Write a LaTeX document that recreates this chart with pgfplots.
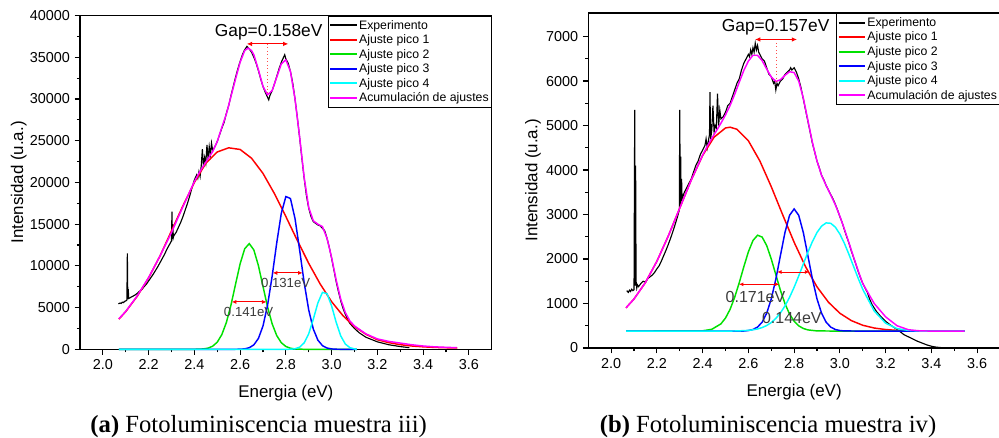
\documentclass[border=0pt]{standalone}
\usepackage{pgfplots}
\pgfplotsset{compat=1.18}
\usepackage{fontspec}
\setmainfont{Liberation Serif}
\newfontfamily\arial{Liberation Sans}
\usetikzlibrary{arrows.meta}
\definecolor{cR}{RGB}{255,0,0}
\definecolor{cG}{RGB}{0,225,0}
\definecolor{cB}{RGB}{0,0,255}
\definecolor{cC}{RGB}{0,255,255}
\definecolor{cM}{RGB}{255,0,255}
\definecolor{annot}{RGB}{60,60,60}
\pgfplotsset{
  myaxis/.style={
    scale only axis, width=308.8pt,
    xmin=1.9, xmax=3.7,
    xtick={2,2.2,2.4,2.6,2.8,3,3.2,3.4,3.6},
    minor x tick num=1, minor y tick num=1,
    xticklabel style={/pgf/number format/.cd,fixed,fixed zerofill,precision=1},
    yticklabel style={/pgf/number format/.cd,fixed,set thousands separator={}},
    scaled y ticks=false,
    /pgf/number format/assume math mode=true,
    tick align=outside, xtick pos=bottom, ytick pos=left,
    major tick length=4pt, minor tick length=2.3pt,
    axis line style={line width=1.1pt},
    every tick/.style={black, line width=0.9pt},
    tick label style={font=\arial\fontsize{10.8}{12}\selectfont},
    label style={font=\arial\fontsize{12.7}{14}\selectfont},
    xlabel={Energia (eV)}, ylabel={Intensidad (u.a.)},
    legend style={at={(1,1)}, anchor=north east, draw=black, line width=0.6pt,
      font=\arial\fontsize{9.2}{10}\selectfont, inner xsep=1pt, inner ysep=1.5pt,
      row sep=0pt, nodes={inner xsep=1pt, inner ysep=0pt, text height=8.3pt, text depth=2.6pt}},
    legend cell align=left,
    legend image code/.code={\draw[#1, line width=1.3pt] (0pt,0pt) -- (20pt,0pt);},
    clip=false,
  },
  fit/.style={line width=1.1pt},
}
\begin{document}
\begin{tikzpicture}
\path[use as bounding box] (0,0) rectangle (749.25pt,-328.5pt);
% ---------------- panel (a) ----------------
\begin{axis}[myaxis, at={(60pt,-262pt)}, anchor=south west, height=250.35pt,
  ymin=0, ymax=40000, ytick={0,5000,...,40000},
  ylabel style={at={(axis description cs:-0.149,0.5)}, anchor=center},
  xlabel style={at={(axis description cs:0.5,-0.132)}, anchor=center}]
\addplot[black, line width=0.85pt] coordinates {
(2.068,5450)(2.075,5550)(2.080,5500)(2.085,5650)(2.090,5600)(2.095,5750)(2.100,5800)(2.105,5900)
(2.107,11500)(2.109,6000)(2.111,7200)(2.113,6100)(2.12,6200)(2.13,6350)(2.14,6500)(2.15,6700)
(2.16,6950)(2.17,7150)(2.18,7500)(2.19,7800)(2.20,8200)(2.21,8600)(2.22,9000)(2.23,9450)
(2.24,9900)(2.25,10400)(2.26,10900)(2.27,11400)(2.28,12000)(2.29,12500)(2.300,13000)(2.302,16500)
(2.304,13200)(2.306,15000)(2.308,13400)(2.31,13600)(2.32,14000)(2.33,14600)(2.34,15200)(2.35,15900)
(2.36,16700)(2.37,17500)(2.38,18400)(2.39,19400)(2.40,20300)(2.41,20900)(2.415,20500)(2.42,21300)
(2.425,20700)(2.43,22000)(2.435,24000)(2.44,21800)(2.445,23000)(2.45,22300)(2.455,24500)(2.46,22800)
(2.465,24300)(2.47,23300)(2.475,24700)(2.48,23800)(2.49,24300)(2.50,24900)(2.51,25700)(2.52,26500)
(2.53,27200)(2.54,28300)(2.55,29200)(2.56,30400)(2.57,31500)(2.58,32600)(2.59,33600)(2.60,34500)
(2.61,35300)(2.62,35900)(2.63,36300)(2.64,36000)(2.65,35600)(2.66,35000)(2.67,34300)(2.68,33400)
(2.69,32400)(2.70,31500)(2.71,30800)(2.72,30200)(2.725,29900)(2.73,30400)(2.74,31000)(2.75,31800)
(2.76,32700)(2.77,33600)(2.78,34400)(2.79,35000)(2.795,35300)(2.80,34800)(2.81,34300)(2.82,33300)
(2.83,31900)(2.84,30000)(2.85,27800)(2.86,25400)(2.87,22900)(2.88,20500)(2.89,18400)(2.90,16900)
(2.91,15900)(2.92,15300)(2.93,15100)(2.94,14900)(2.95,14800)(2.96,14500)(2.97,14200)(2.98,13300)
(2.99,12200)(3.00,10900)(3.01,9500)(3.02,8100)(3.03,6900)(3.04,5800)(3.05,4900)(3.06,4200)
(3.07,3600)(3.08,3100)(3.10,2500)(3.12,2000)(3.15,1450)(3.20,900)(3.25,550)(3.30,330)(3.34,200)
};
\addlegendentry{Experimento}
\addplot[cR, fit] coordinates {
(2.07,3620)(2.10,4520)(2.15,6350)(2.20,8570)(2.25,11200)(2.30,14200)(2.35,17200)(2.40,20000)
(2.45,22300)(2.50,23650)(2.55,24150)(2.60,23950)(2.65,22900)(2.70,21080)(2.75,18660)(2.80,15910)
(2.85,13050)(2.90,10300)(2.95,7830)(3.00,5710)(3.05,4020)(3.10,2720)(3.15,1800)(3.20,1150)
(3.25,800)(3.30,560)(3.35,400)(3.40,300)(3.45,230)(3.50,190)(3.55,160)
};
\addlegendentry{Ajuste pico 1}
\addplot[cG, fit] coordinates {
(2.07,0)(2.40,4)(2.44,51)(2.46,146)(2.48,375)(2.50,860)(2.52,1761)(2.54,3230)(2.56,5310)
(2.58,7800)(2.60,10250)(2.62,12050)(2.64,12670)(2.66,11910)(2.68,10030)(2.70,7540)(2.72,5080)
(2.74,3060)(2.76,1650)(2.78,795)(2.80,342)(2.82,131)(2.84,46)(2.88,4)(3.11,0)
};
\addlegendentry{Ajuste pico 2}
\addplot[cB, fit] coordinates {
(2.07,0)(2.56,0)(2.60,17)(2.62,61)(2.64,192)(2.66,537)(2.68,1306)(2.70,2800)(2.72,5290)
(2.74,8760)(2.76,12740)(2.78,16300)(2.80,18310)(2.82,18070)(2.84,15670)(2.86,11940)(2.88,7990)
(2.90,4700)(2.92,2430)(2.94,1100)(2.96,440)(2.98,154)(3.00,48)(3.02,13)(3.06,0)(3.11,0)
};
\addlegendentry{Ajuste pico 3}
\addplot[cC, fit] coordinates {
(2.07,0)(2.80,0)(2.82,14)(2.84,67)(2.86,255)(2.88,777)(2.90,1876)(2.92,3617)(2.94,5565)
(2.96,6825)(2.98,6672)(3.00,5200)(3.02,3230)(3.04,1600)(3.06,632)(3.08,199)(3.10,50)(3.11,0)
};
\addlegendentry{Ajuste pico 4}
\addplot[cM, fit] coordinates {
(2.07,3650)(2.10,4550)(2.15,6400)(2.20,8600)(2.25,11200)(2.30,14000)(2.35,17100)(2.40,20100)
(2.42,21100)(2.44,22000)(2.46,22850)(2.48,23700)(2.50,24900)(2.52,26600)(2.54,28200)(2.56,30300)
(2.58,32400)(2.60,34400)(2.62,35800)(2.635,36100)(2.65,35800)(2.66,35300)(2.68,33500)(2.70,31500)
(2.72,30500)(2.74,31000)(2.76,32600)(2.78,34200)(2.80,34700)(2.82,33300)(2.84,30000)(2.86,25500)
(2.88,20600)(2.90,17000)(2.92,15400)(2.94,15000)(2.96,14700)(2.98,13300)(3.00,11000)(3.02,8300)
(3.04,6000)(3.06,4400)(3.08,3400)(3.10,2800)(3.15,1850)(3.20,1250)(3.25,950)(3.30,750)
(3.35,550)(3.40,400)(3.45,300)(3.50,240)(3.547,200)
};
\addlegendentry{Acumulación de ajustes}
\draw[cR!70, dotted, line width=0.6pt] (axis cs:2.719,36600) -- (axis cs:2.719,30400);
\draw[cR, line width=0.8pt, {Latex[length=4pt,width=3.5pt]}-{Latex[length=4pt,width=3.5pt]}] (axis cs:2.629,36600) -- (axis cs:2.811,36600);
\node[font=\arial\fontsize{13}{14}\selectfont] at (axis cs:2.725,38050) {Gap=0.158eV};
\draw[cR, line width=0.7pt, {Latex[length=3.5pt,width=3pt]}-{Latex[length=3.5pt,width=3pt]}] (axis cs:2.563,5680) -- (axis cs:2.716,5680);
\node[font=\arial\fontsize{9.9}{11}\selectfont, text=annot] at (axis cs:2.637,4510) {0.141eV};
\draw[cR, line width=0.7pt, {Latex[length=3.5pt,width=3pt]}-{Latex[length=3.5pt,width=3pt]}] (axis cs:2.742,9160) -- (axis cs:2.874,9160);
\node[font=\arial\fontsize{9.9}{11}\selectfont, text=annot] at (axis cs:2.799,7960) {0.131eV};
\end{axis}
% ---------------- panel (b) ----------------
\begin{axis}[myaxis, at={(441.2pt,-261pt)}, anchor=south west, height=251.25pt,
  ymin=0, ymax=7530, ytick={0,1000,...,7000},
  ylabel style={at={(axis description cs:-0.134,0.5)}, anchor=center},
  xlabel style={at={(axis description cs:0.5,-0.1305)}, anchor=center}]
\addplot[black, line width=0.85pt] coordinates {
(2.068,1290)(2.075,1250)(2.080,1300)(2.085,1270)(2.090,1320)(2.095,1290)(2.100,1310)(2.103,5350)
(2.105,1400)(2.107,4100)(2.109,1500)(2.112,1350)(2.115,1420)(2.12,1380)(2.13,1450)(2.14,1500)
(2.15,1480)(2.16,1560)(2.17,1600)(2.18,1640)(2.19,1700)(2.20,1780)(2.21,1850)(2.22,1960)
(2.23,2080)(2.24,2200)(2.25,2330)(2.26,2470)(2.27,2620)(2.28,2780)(2.29,2950)(2.298,3100)
(2.300,5350)(2.302,3200)(2.304,4300)(2.306,3300)(2.308,3800)(2.31,3350)(2.32,3500)(2.33,3600)
(2.34,3700)(2.35,3800)(2.36,3950)(2.37,4100)(2.38,4200)(2.39,4350)(2.40,4450)(2.41,4550)
(2.415,4700)(2.42,4500)(2.43,4800)(2.432,5750)(2.435,4700)(2.44,4900)(2.445,5450)(2.45,4850)
(2.455,5000)(2.46,4950)(2.465,5720)(2.47,5000)(2.475,5350)(2.48,5150)(2.49,5200)(2.50,5300)
(2.51,5450)(2.52,5500)(2.53,5650)(2.54,5800)(2.55,5950)(2.56,6050)(2.57,6250)(2.58,6400)
(2.59,6500)(2.60,6600)(2.605,6550)(2.61,6700)(2.615,6600)(2.62,6750)(2.625,6650)(2.63,6850)
(2.635,6700)(2.64,6800)(2.645,6650)(2.65,6600)(2.66,6500)(2.67,6450)(2.68,6300)(2.69,6150)
(2.70,6100)(2.71,5950)(2.715,6000)(2.72,5800)(2.725,5950)(2.73,5900)(2.74,6000)(2.75,6050)
(2.76,6150)(2.77,6200)(2.78,6250)(2.785,6300)(2.79,6250)(2.80,6300)(2.81,6200)(2.82,6050)
(2.83,5850)(2.84,5600)(2.85,5350)(2.86,5100)(2.87,4850)(2.88,4600)(2.89,4400)(2.90,4200)
(2.91,4050)(2.92,3880)(2.93,3780)(2.94,3650)(2.95,3550)(2.96,3450)(2.97,3350)(2.98,3230)
(2.99,3100)(3.00,2950)(3.01,2820)(3.02,2650)(3.03,2500)(3.04,2350)(3.05,2180)(3.06,2030)
(3.07,1880)(3.08,1720)(3.09,1580)(3.10,1450)(3.11,1350)(3.12,1250)(3.13,1100)(3.14,980)
(3.15,900)(3.16,820)(3.17,760)(3.18,700)(3.19,650)(3.20,600)(3.22,520)(3.24,450)
(3.26,380)(3.28,300)(3.30,250)(3.32,200)(3.34,150)(3.36,110)(3.38,70)(3.40,40)
(3.42,20)(3.45,5)(3.50,0)(3.545,0)
};
\addlegendentry{Experimento}
\addplot[cR, fit] coordinates {
(2.065,903)(2.10,1102)(2.15,1473)(2.20,1950)(2.25,2520)(2.30,3146)(2.35,3773)(2.40,4328)
(2.45,4739)(2.50,4946)(2.52,4963)(2.55,4917)(2.60,4657)(2.65,4206)(2.70,3626)(2.75,2993)
(2.80,2376)(2.85,1826)(2.90,1374)(2.95,1029)(3.00,781)(3.05,616)(3.10,511)(3.15,449)
(3.20,415)(3.25,396)(3.30,387)(3.40,381)(3.545,380)
};
\addlegendentry{Ajuste pico 1}
\addplot[cG, fit] coordinates {
(2.065,380)(2.40,387)(2.44,420)(2.48,543)(2.50,674)(2.52,870)(2.54,1139)(2.56,1468)(2.58,1826)
(2.60,2162)(2.62,2416)(2.64,2535)(2.66,2494)(2.68,2303)(2.70,2001)(2.72,1647)(2.74,1297)
(2.76,996)(2.78,763)(2.80,601)(2.82,498)(2.84,439)(2.86,407)(2.90,384)(3.00,380)(3.545,380)
};
\addlegendentry{Ajuste pico 2}
\addplot[cB, fit] coordinates {
(2.065,380)(2.58,381)(2.60,393)(2.62,416)(2.64,470)(2.66,580)(2.68,781)(2.70,1103)(2.72,1548)
(2.74,2078)(2.76,2598)(2.78,2983)(2.80,3126)(2.82,2983)(2.84,2598)(2.86,2078)(2.88,1548)
(2.90,1103)(2.92,781)(2.94,580)(2.96,470)(2.98,416)(3.00,393)(3.02,384)(3.10,380)(3.545,380)
};
\addlegendentry{Ajuste pico 3}
\addplot[cC, fit] coordinates {
(2.065,380)(2.50,380)(2.55,383)(2.60,396)(2.62,409)(2.64,428)(2.66,459)(2.68,505)(2.70,572)
(2.72,665)(2.74,788)(2.76,946)(2.78,1140)(2.80,1366)(2.82,1619)(2.84,1886)(2.86,2151)
(2.88,2394)(2.90,2597)(2.92,2740)(2.94,2812)(2.96,2803)(2.98,2717)(3.00,2560)(3.02,2348)
(3.04,2099)(3.06,1832)(3.08,1567)(3.10,1318)(3.15,832)(3.20,557)(3.25,436)(3.30,395)
(3.35,381)(3.545,380)
};
\addlegendentry{Ajuste pico 4}
\addplot[cM, fit] coordinates {
(2.065,903)(2.10,1102)(2.15,1473)(2.20,1950)(2.25,2520)(2.30,3146)(2.35,3773)(2.40,4335)
(2.42,4532)(2.44,4712)(2.46,4882)(2.48,5053)(2.50,5240)(2.52,5453)(2.54,5701)(2.56,5974)
(2.58,6239)(2.60,6450)(2.62,6580)(2.64,6580)(2.66,6460)(2.68,6270)(2.70,6090)(2.72,5990)
(2.74,6030)(2.76,6130)(2.78,6210)(2.80,6190)(2.82,6000)(2.84,5620)(2.86,5120)(2.88,4620)
(2.90,4200)(2.92,3880)(2.94,3650)(2.96,3440)(2.98,3220)(3.00,2960)(3.02,2670)(3.04,2360)
(3.06,2040)(3.08,1734)(3.10,1449)(3.15,1000)(3.20,700)(3.25,500)(3.30,410)(3.35,385)
(3.40,380)(3.545,380)
};
\addlegendentry{Acumulación de ajustes}
\draw[cR!70, dotted, line width=0.6pt] (axis cs:2.722,6935) -- (axis cs:2.722,5950);
\draw[cR, line width=0.8pt, {Latex[length=4pt,width=3.5pt]}-{Latex[length=4pt,width=3.5pt]}] (axis cs:2.629,6935) -- (axis cs:2.813,6935);
\node[font=\arial\fontsize{13}{14}\selectfont] at (axis cs:2.719,7218) {Gap=0.157eV};
\draw[cR, line width=0.7pt, {Latex[length=3.5pt,width=3pt]}-{Latex[length=3.5pt,width=3pt]}] (axis cs:2.558,1432) -- (axis cs:2.736,1432);
\node[font=\arial\fontsize{12}{13}\selectfont, text=annot] at (axis cs:2.631,1154) {0.171eV};
\draw[cR, line width=0.7pt, {Latex[length=3.5pt,width=3pt]}-{Latex[length=3.5pt,width=3pt]}] (axis cs:2.725,1709) -- (axis cs:2.867,1709);
\node[font=\arial\fontsize{12}{13}\selectfont, text=annot] at (axis cs:2.79,682) {0.144eV};
\end{axis}
% captions
\node[anchor=base, font=\fontsize{18.5}{20}\selectfont] at (194pt,-324.2pt) {\textbf{(a)} Fotoluminiscencia muestra iii)};
\node[anchor=base, font=\fontsize{18.5}{20}\selectfont] at (576pt,-324.2pt) {\textbf{(b)} Fotoluminiscencia muestra iv)};
\end{tikzpicture}
\end{document}
